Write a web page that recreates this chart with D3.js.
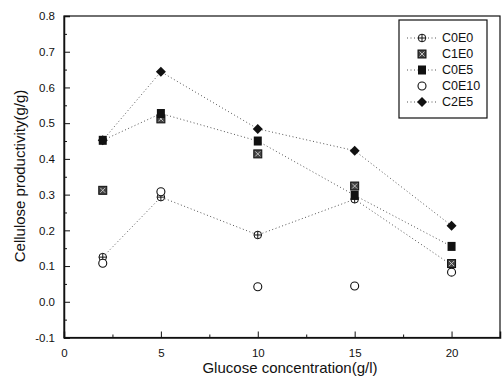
<!DOCTYPE html>
<html>
<head>
<meta charset="utf-8">
<script src="https://cdn.jsdelivr.net/npm/d3@7"></script>
<style>
  body { margin: 0; background: #fff; }
  svg { display: block; font-family: "Liberation Sans", Arial, sans-serif; }
</style>
</head>
<body>
<svg id="chart" width="502" height="378"></svg>
<script>
// glucose concentration (g/l)
const glucose = [2, 5, 10, 15, 20];

// cellulose productivity (g/g) per series
const c0e0 = [0.125, 0.293, 0.187, 0.287, 0.103];
const c1e0 = [0.312, 0.512, 0.414, 0.324, 0.107];
const c0e5 = [0.452, 0.527, 0.450, 0.298, 0.155];
const c0e10 = [0.108, 0.308, 0.042, 0.044, 0.083];
const c2e5 = [0.452, 0.644, 0.484, 0.423, 0.213];

const seriesNames = ['C0E0', 'C1E0', 'C0E5', 'C0E10', 'C2E5'];
const seriesValues = [c0e0, c1e0, c0e5, c0e10, c2e5];
const seriesHasLine = [true, false, true, false, true];

const xTicks = [0, 5, 10, 15, 20];
const yTicks = [-0.1, 0, 0.1, 0.2, 0.3, 0.4, 0.5, 0.6, 0.7, 0.8];

const svg = d3.select('#chart');
const margin = { left: 64, right: 500, top: 16, bottom: 337.5 };

const x = d3.scaleLinear().domain([0, 22.5]).range([margin.left, margin.right]);
const y = d3.scaleLinear().domain([-0.1, 0.8]).range([margin.bottom, margin.top]);

const line = d3.line().x(d => x(d[0])).y(d => y(d[1]));

// frame
svg.append('rect')
  .attr('x', margin.left).attr('y', margin.top)
  .attr('width', margin.right - margin.left).attr('height', margin.bottom - margin.top)
  .attr('fill', 'none').attr('stroke', '#111').attr('stroke-width', 1.2);

// x axis
svg.append('g')
  .attr('transform', `translate(0,${margin.bottom})`)
  .call(d3.axisBottom(x).tickValues(d3.range(2.5, 22.5, 5)).tickSize(-3).tickFormat(() => ''))
  .call(g => g.select('.domain').remove());
svg.append('g')
  .attr('transform', `translate(0,${margin.bottom})`)
  .call(d3.axisBottom(x).tickValues(xTicks).tickSize(-6).tickPadding(11).tickFormat(d3.format('d')))
  .call(g => g.select('.domain').attr('stroke', '#111').attr('stroke-width', 1.5));

// y axis
svg.append('g')
  .attr('transform', `translate(${margin.left},0)`)
  .call(d3.axisLeft(y).tickValues(d3.range(-0.05, 0.8, 0.1)).tickSize(-3).tickFormat(() => ''))
  .call(g => g.select('.domain').remove());
svg.append('g')
  .attr('transform', `translate(${margin.left},0)`)
  .call(d3.axisLeft(y).tickValues(yTicks).tickSize(-6).tickPadding(9)
    .tickFormat(d => d3.format('.1f')(d).replace('\u2212', '-')))
  .call(g => g.select('.domain').attr('stroke', '#111').attr('stroke-width', 1.5));

svg.selectAll('.tick line').attr('stroke', '#111');
svg.selectAll('.tick text').attr('font-size', 11.5).attr('fill', '#111')
  .attr('font-family', '"Liberation Sans", Arial, sans-serif');

// axis titles
svg.append('text')
  .attr('x', 290).attr('y', 373)
  .attr('text-anchor', 'middle')
  .attr('font-size', 15).attr('fill', '#111')
  .text('Glucose concentration(g/l)');
svg.append('text')
  .attr('transform', 'translate(25,176) rotate(-90)')
  .attr('text-anchor', 'middle')
  .attr('font-size', 15).attr('fill', '#111')
  .text('Cellulose productivity(g/g)');

// marker drawing
function drawMarker(g, name) {
  if (name === 'C0E0') {
    g.append('circle').attr('r', 3.8).attr('fill', '#fff').attr('stroke', '#111').attr('stroke-width', 1);
    g.append('path').attr('d', 'M-3.8,0H3.8M0,-3.8V3.8').attr('stroke', '#111').attr('stroke-width', 1);
  } else if (name === 'C1E0') {
    g.append('rect').attr('x', -4).attr('y', -4).attr('width', 8).attr('height', 8)
      .attr('fill', '#444').attr('stroke', '#111').attr('stroke-width', 1);
    g.append('path').attr('d', 'M-2.5,-2.5L2.5,2.5M-2.5,2.5L2.5,-2.5').attr('stroke', '#ddd').attr('stroke-width', 0.8);
  } else if (name === 'C0E5') {
    g.append('rect').attr('x', -4).attr('y', -4.5).attr('width', 8).attr('height', 9).attr('fill', '#111');
  } else if (name === 'C0E10') {
    g.append('circle').attr('r', 4).attr('fill', '#fff').attr('stroke', '#111').attr('stroke-width', 1.1);
  } else {
    g.append('path').attr('d', 'M0,-5L5,0L0,5L-5,0Z').attr('fill', '#111');
  }
}

// series lines
seriesNames.forEach((name, i) => {
  const pts = glucose.map((gv, j) => [gv, seriesValues[i][j]]);
  if (seriesHasLine[i]) {
    svg.append('path')
      .datum(pts)
      .attr('d', line)
      .attr('fill', 'none')
      .attr('stroke', '#555')
      .attr('stroke-width', 1)
      .attr('stroke-dasharray', '1,2.5');
  }
});
// series markers
seriesNames.forEach((name, i) => {
  glucose.forEach((gv, j) => {
    const g = svg.append('g').attr('transform', `translate(${x(gv)},${y(seriesValues[i][j])})`);
    drawMarker(g, name);
  });
});

// legend
const legend = svg.append('g').attr('transform', 'translate(399,20)');
legend.append('rect')
  .attr('width', 88).attr('height', 98)
  .attr('fill', '#fff').attr('stroke', '#111').attr('stroke-width', 1.2);
seriesNames.forEach((name, i) => {
  const row = legend.append('g').attr('transform', `translate(0,${18 + i * 16})`);
  if (seriesHasLine[i]) {
    row.append('line').attr('x1', 8).attr('x2', 38)
      .attr('stroke', '#555').attr('stroke-dasharray', '1,2.5');
  }
  const m = row.append('g').attr('transform', 'translate(23,0)');
  drawMarker(m, name);
  row.append('text')
    .attr('x', 43).attr('y', 0).attr('dy', '0.35em')
    .attr('font-size', 12.5).attr('fill', '#111')
    .text(name);
});
</script>
</body>
</html>
